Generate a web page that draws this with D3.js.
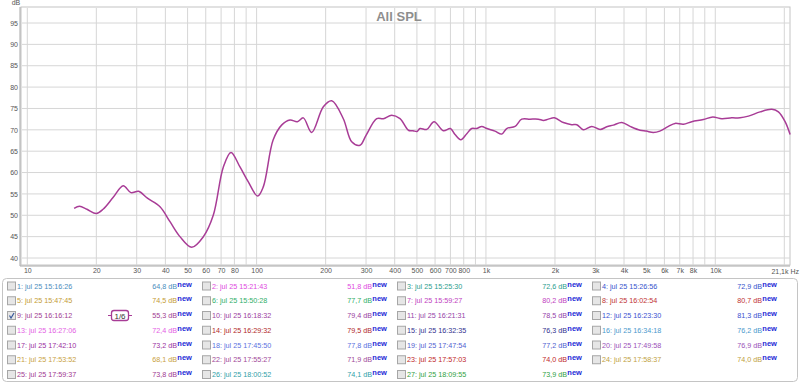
<!DOCTYPE html>
<html>
<head>
<meta charset="utf-8">
<title>All SPL</title>
<style>
  body { margin: 0; padding: 0; background: #fff; }
  text { font-family: "Liberation Sans", Arial, sans-serif; }
</style>
<script src="https://cdn.jsdelivr.net/npm/d3@7"></script>
</head>
<body>
<svg width="800" height="383"></svg>
<script>
const freqs = [16, 16.9, 18.2, 20, 21.4, 23.7, 26.2, 28.3, 30.6, 33.4, 37.9, 41.9, 46.3, 52.1, 58.6, 64.7,
  71.6, 77.3, 84.6, 92, 101, 107, 118, 128.5, 139.8, 150.5, 159.8, 173.8, 195.4, 212.6, 238.8, 259.8,
  282.4, 300, 334, 357, 388, 422, 459, 481, 500, 516, 552, 594, 652, 700, 733, 777, 825, 867, 910, 959,
  1010, 1095, 1172, 1232, 1340, 1432, 1556, 1692, 1782, 1871, 1987, 2176, 2366, 2490, 2659, 2893, 3146,
  3364, 3594, 3911, 4251, 4700, 5000, 5370, 5730, 6245, 6678, 7262, 7899, 8872, 9750, 10680, 11800,
  12830, 13950, 15680, 17640, 18850, 20160, 21200];
const spl = [51.6, 52.1, 51.4, 50.4, 51.4, 54.2, 56.9, 55.3, 55.6, 54.0, 52.0, 48.5, 45.0, 42.5, 45.0, 50.0,
  61.3, 64.7, 61.3, 57.8, 54.5, 56.7, 67.6, 71.1, 72.3, 71.9, 72.8, 69.4, 75.4, 76.8, 72.6, 67.2,
  66.4, 68.7, 72.6, 72.6, 73.4, 72.6, 69.9, 69.8, 69.6, 70.3, 70.1, 71.9, 69.8, 70.3, 68.9, 67.7, 69.1, 70.3, 70.3, 70.8,
  70.3, 69.7, 69.0, 70.3, 70.8, 72.5, 72.5, 72.5, 72.2, 72.5, 72.8, 71.7, 71.2, 71.2, 70.0, 70.8, 70.1,
  70.7, 71.1, 71.7, 70.8, 69.9, 69.7, 69.4, 69.7, 70.8, 71.5, 71.3, 71.9, 72.4, 73.0, 72.6, 72.8,
  72.8, 73.2, 74.2, 74.8, 74.2, 71.9, 68.9];

const xTicks = [10, 20, 30, 40, 50, 60, 70, 80, 100, 200, 300, 400, 500, 600, 700, 800,
  1000, 2000, 3000, 4000, 5000, 6000, 7000, 8000, 10000];
const xTickLabels = ["10", "20", "30", "40", "50", "60", "70", "80", "100", "200", "300", "400", "500",
  "600", "700", "800", "1k", "2k", "3k", "4k", "5k", "6k", "7k", "8k", "10k"];
const yTicks = [40, 45, 50, 55, 60, 65, 70, 75, 80, 85, 90, 95];

// legend entries
const legendNames = ["jul 25 15:16:26", "jul 25 15:21:43", "jul 25 15:25:30", "jul 25 15:26:56",
  "jul 25 15:47:45", "jul 25 15:50:28", "jul 25 15:59:27", "jul 25 16:02:54",
  "jul 25 16:16:12", "jul 25 16:18:32", "jul 25 16:21:31", "jul 25 16:23:30",
  "jul 25 16:27:06", "jul 25 16:29:32", "jul 25 16:32:35", "jul 25 16:34:18",
  "jul 25 17:42:10", "jul 25 17:45:50", "jul 25 17:47:54", "jul 25 17:49:58",
  "jul 25 17:53:52", "jul 25 17:55:27", "jul 25 17:57:03", "jul 25 17:58:37",
  "jul 25 17:59:37", "jul 25 18:00:52", "jul 25 18:09:55"];
const legendValues = [64.8, 51.8, 72.6, 72.9, 74.5, 77.7, 80.2, 80.7, 55.3, 79.4, 78.5, 81.3, 72.4, 79.5,
  76.3, 76.2, 73.2, 77.8, 77.2, 76.9, 68.1, 71.9, 74.0, 74.0, 73.8, 74.1, 73.9];
const legendColors = ["#4a8cbc", "#e048e0", "#2a9c8c", "#3552cc", "#c49a32", "#2fae68", "#c040c0", "#c03232",
  "#a03c90", "#9a40a0", "#9440a8", "#3a50d0", "#e45ee4", "#b02828", "#30308e", "#4a98cc",
  "#9a30a0", "#5a70e0", "#5060d0", "#9a50b8", "#c8a040", "#a04898", "#c02828", "#c0a040",
  "#a03890", "#30a0a8", "#30a040"];
const checkedIndex = 8;

const svg = d3.select("svg");
const plot = { left: 21, top: 7, right: 790, bottom: 265 };

const x = d3.scaleLog().domain([10, 20000]).range([27.3, 784.3]);
const y = d3.scaleLinear().domain([40, 95]).range([258, 23]);

// frame
svg.append("rect")
  .attr("x", plot.left).attr("y", plot.top)
  .attr("width", plot.right - plot.left).attr("height", plot.bottom - plot.top)
  .attr("fill", "#fff").attr("stroke", "#c4c4c4");
svg.append("line").attr("x1", plot.left - 1).attr("x2", plot.left - 1)
  .attr("y1", plot.top).attr("y2", plot.bottom + 1).attr("stroke", "#a8a8a8");
svg.append("line").attr("x1", plot.left - 1).attr("x2", plot.right)
  .attr("y1", plot.bottom + 1).attr("y2", plot.bottom + 1).attr("stroke", "#a8a8a8");

// grid
const gridF = [];
[10, 100, 1000, 10000].forEach(d => {
  for (let m = 1; m <= 9; m++) if (d * m <= 20000) gridF.push(d * m);
});
svg.append("g").selectAll("line").data(gridF).join("line")
  .attr("x1", d => x(d)).attr("x2", d => x(d))
  .attr("y1", plot.top + 1).attr("y2", plot.bottom)
  .attr("stroke", "#d6d6d6").attr("stroke-width", 1);
svg.append("g").selectAll("line").data(yTicks).join("line")
  .attr("x1", plot.left + 1).attr("x2", plot.right)
  .attr("y1", d => y(d)).attr("y2", d => y(d))
  .attr("stroke", "#d6d6d6").attr("stroke-width", 1);

// axes
const yAxis = svg.append("g")
  .attr("transform", `translate(${plot.left},0)`)
  .call(d3.axisLeft(y).tickValues(yTicks).tickSize(0).tickPadding(3));
yAxis.select(".domain").remove();
yAxis.selectAll("text").attr("font-size", 7).attr("fill", "#555")
  .attr("font-family", "Liberation Sans, Arial, sans-serif");

const xAxis = svg.append("g")
  .attr("transform", `translate(0,${plot.bottom})`)
  .call(d3.axisBottom(x).tickValues(xTicks).tickSize(0).tickPadding(3)
    .tickFormat((d, i) => xTickLabels[i]));
xAxis.select(".domain").remove();
xAxis.selectAll("text").attr("font-size", 7).attr("fill", "#555")
  .attr("font-family", "Liberation Sans, Arial, sans-serif");

svg.append("text").attr("x", 799).attr("y", 274).attr("text-anchor", "end")
  .attr("font-size", 7).attr("fill", "#555").text("21,1k Hz");
svg.append("text").attr("x", 16).attr("y", 5).attr("text-anchor", "middle")
  .attr("font-size", 7).attr("fill", "#555").text("dB");

svg.append("text").attr("x", 399).attr("y", 21).attr("text-anchor", "middle")
  .attr("font-size", 13).attr("font-weight", "bold").attr("fill", "#8e8e8e")
  .text("All SPL");

// curve
const line = d3.line()
  .x(d => x(d[0])).y(d => y(d[1]))
  .curve(d3.curveCatmullRom.alpha(0.5));
svg.append("path")
  .datum(freqs.map((f, i) => [f, spl[i]]))
  .attr("d", line)
  .attr("fill", "none").attr("stroke", "#a83c96").attr("stroke-width", 1.5);

// legend panel
svg.append("rect").attr("x", 2.5).attr("y", 278.5).attr("width", 795).attr("height", 103)
  .attr("rx", 4).attr("fill", "#fff").attr("stroke", "#c4c4c4");

const fmt = v => v.toFixed(1).replace(".", ",") + " dB";
const items = svg.append("g").selectAll("g").data(legendNames).join("g")
  .attr("transform", (d, i) => `translate(${(i % 4) * 195},${286 + Math.floor(i / 4) * 14.75})`);

items.append("rect").attr("x", 7.5).attr("y", -4).attr("width", 8).attr("height", 8)
  .attr("fill", "#e6e6e6").attr("stroke", "#a6a6a6");
items.filter((d, i) => i === checkedIndex).append("path")
  .attr("d", "M9.5,0 L11,2.5 L14,-2.5").attr("fill", "none")
  .attr("stroke", "#3a5a9a").attr("stroke-width", 1.2);

items.append("text").attr("x", 17).attr("y", 2.5)
  .attr("font-size", 7.2).attr("fill", (d, i) => legendColors[i])
  .text((d, i) => `${i + 1}: ${d}`);
items.append("text").attr("x", 177).attr("y", 2.5).attr("text-anchor", "end")
  .attr("font-size", 7.2).attr("fill", (d, i) => legendColors[i])
  .text((d, i) => fmt(legendValues[i]));
items.append("text").attr("x", 177.3).attr("y", 0.5)
  .attr("font-size", 7.5).attr("font-weight", "bold").attr("fill", "#1e2ad6")
  .text("new");

// smoothing badge on the checked entry
const badge = items.filter((d, i) => i === checkedIndex).append("g")
  .attr("transform", "translate(108,0)");
badge.append("line").attr("x1", 0).attr("x2", 24).attr("y1", 0).attr("y2", 0)
  .attr("stroke", "#a83c96").attr("stroke-width", 1);
badge.append("rect").attr("x", 3.5).attr("y", -5).attr("width", 17).attr("height", 10)
  .attr("rx", 2.5).attr("fill", "#fff").attr("stroke", "#a83c96").attr("stroke-width", 1.3);
badge.append("text").attr("x", 12).attr("y", 3).attr("text-anchor", "middle")
  .attr("font-size", 8).attr("fill", "#333").text("1/6");
</script>
</body>
</html>
